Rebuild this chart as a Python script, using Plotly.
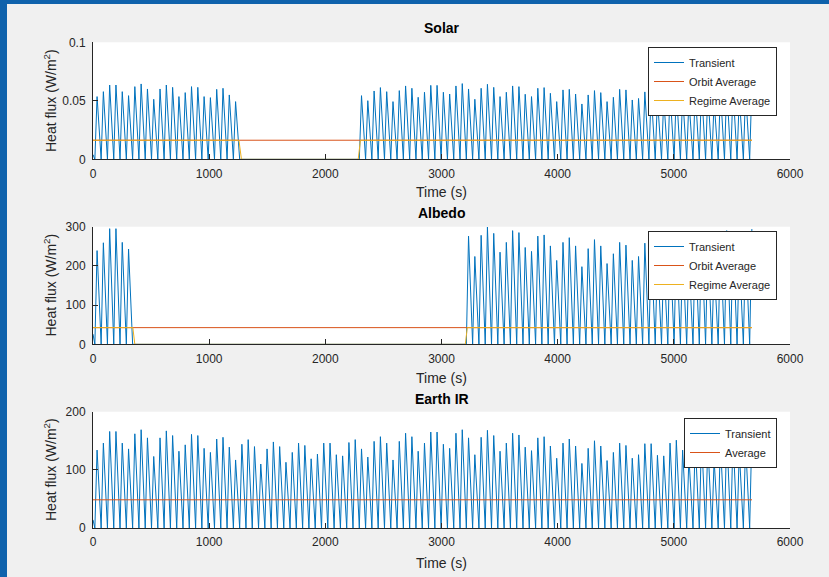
import plotly.graph_objects as go

# ---------------- data ----------------
END_T = 5673          # end of the orbit (s)
FIRST_PEAK_T = 35     # time of first transient peak (s)
PEAK_PERIOD = 54.2    # spacing of transient peaks (s)
RISE_S = 19           # time from trough to peak (s)

# Earth IR transient peaks (W/m2), peak indices 0..104
earth_peaks = [134, 146, 166, 166, 146, 136, 162, 169, 155, 123, 155, 167, 159, 132, 143, 161, 159, 137, 130, 153,
               156, 139, 117, 144, 152, 140, 110, 136, 148, 140, 113, 130, 146, 142, 119, 127, 146, 146, 126, 124,
               147, 152, 136, 122, 149, 157, 146, 117, 149, 163, 157, 132, 146, 165, 165, 144, 137, 163, 169, 155,
               126, 156, 168, 159, 132, 146, 163, 160, 139, 133, 155, 157, 141, 120, 146, 153, 141, 111, 137, 150,
               141, 116, 130, 146, 142, 120, 126, 145, 145, 125, 124, 146, 151, 134, 122, 149, 157, 146, 117, 149,
               163, 157, 132, 146, 165]
earth_start = 14
earth_avg = 48.5

# Albedo transient peaks: segment 1 (indices 0..5), segment 2 (indices 59..104)
albedo_seg1 = [239, 259, 295, 295, 260, 243]
albedo_seg2_first = 59
albedo_seg2 = [276, 224, 278, 299, 283, 235, 260, 290, 285, 247, 237, 276, 279, 251, 214, 260, 272, 251, 198, 244,
               267, 251, 206, 231, 260, 253, 214, 224, 258, 258, 223, 221, 260, 269, 239, 217, 265, 279, 260, 208,
               265, 290, 279, 235, 260, 294]
albedo_start = 26
albedo_orbit_avg = 42.5
albedo_regime_t = [0, 343, 360, 3205, 3222, END_T]
albedo_regime_v = [42.5, 42.5, 0, 0, 42.5, 42.5]

# Solar transient peaks: segment 1 (indices 0..22), segment 2 (indices 42..104)
solar_seg1 = [0.0536, 0.0578, 0.0635, 0.0635, 0.0578, 0.0544, 0.0621, 0.0644, 0.0601, 0.0513, 0.0601, 0.0635,
              0.0615, 0.0536, 0.0570, 0.0621, 0.0615, 0.0536, 0.0527, 0.0598, 0.0607, 0.0550, 0.0493]
solar_seg2_first = 42
solar_seg2 = [0.0544, 0.0501, 0.0584, 0.0613, 0.0578, 0.0493, 0.0587, 0.0627, 0.0607, 0.0530, 0.0573, 0.0632,
              0.0632, 0.0573, 0.0558, 0.0627, 0.0647, 0.0601, 0.0513, 0.0607, 0.0641, 0.0615, 0.0536, 0.0573,
              0.0627, 0.0621, 0.0556, 0.0536, 0.0607, 0.0613, 0.0564, 0.0493, 0.0593, 0.0598, 0.0558, 0.0473,
              0.0550, 0.0587, 0.0570, 0.0493, 0.0530, 0.0598, 0.0593, 0.0507, 0.0520, 0.0576, 0.0576, 0.0519,
              0.0516, 0.0579, 0.0593, 0.0545, 0.0511, 0.0588, 0.0610, 0.0579, 0.0496, 0.0588, 0.0628, 0.0610,
              0.0539, 0.0579, 0.0633]
solar_start = 0.004
solar_orbit_avg = 0.0163
solar_regime_t = [0, 1256, 1278, 2283, 2302, END_T]
solar_regime_v = [0.0163, 0.0163, 0, 0, 0.0163, 0.0163]

# ---------------- helpers ----------------
def transient(segments, start_val):
    xs, ys = [0], [start_val]
    for first, vals in segments:
        for k, v in enumerate(vals):
            t = FIRST_PEAK_T + (first + k) * PEAK_PERIOD
            t = min(t, END_T)
            xs += [t - RISE_S, t]
            ys += [0, v]
        t_after = FIRST_PEAK_T + (first + len(vals) - 1) * PEAK_PERIOD + (PEAK_PERIOD - RISE_S)
        if t_after < END_T:
            xs.append(t_after)
            ys.append(0)
    return xs, ys

BLUE = "#0072BD"
ORANGE = "#D95319"
YELLOW = "#EDB120"
AX = "#262626"
FONT = "Liberation Sans, Arial, Helvetica, sans-serif"

fig = go.Figure()

# Solar
sx, sy = transient([(0, solar_seg1), (solar_seg2_first, solar_seg2)], solar_start)
fig.add_trace(go.Scatter(x=sx, y=sy, mode="lines", line=dict(color=BLUE, width=1), name="Transient",
                         xaxis="x", yaxis="y", legend="legend"))
fig.add_trace(go.Scatter(x=[0, END_T], y=[solar_orbit_avg, solar_orbit_avg], mode="lines",
                         line=dict(color=ORANGE, width=1), name="Orbit Average", xaxis="x", yaxis="y", legend="legend"))
fig.add_trace(go.Scatter(x=solar_regime_t, y=solar_regime_v, mode="lines", line=dict(color=YELLOW, width=1),
                         name="Regime Average", xaxis="x", yaxis="y", legend="legend"))

# Albedo
ax_, ay_ = transient([(0, albedo_seg1), (albedo_seg2_first, albedo_seg2)], albedo_start)
fig.add_trace(go.Scatter(x=ax_, y=ay_, mode="lines", line=dict(color=BLUE, width=1), name="Transient",
                         xaxis="x2", yaxis="y2", legend="legend2"))
fig.add_trace(go.Scatter(x=[0, END_T], y=[albedo_orbit_avg, albedo_orbit_avg], mode="lines",
                         line=dict(color=ORANGE, width=1), name="Orbit Average", xaxis="x2", yaxis="y2", legend="legend2"))
fig.add_trace(go.Scatter(x=albedo_regime_t, y=albedo_regime_v, mode="lines", line=dict(color=YELLOW, width=1),
                         name="Regime Average", xaxis="x2", yaxis="y2", legend="legend2"))

# Earth IR
ex, ey = transient([(0, earth_peaks)], earth_start)
fig.add_trace(go.Scatter(x=ex, y=ey, mode="lines", line=dict(color=BLUE, width=1), name="Transient",
                         xaxis="x3", yaxis="y3", legend="legend3"))
fig.add_trace(go.Scatter(x=[0, END_T], y=[earth_avg, earth_avg], mode="lines",
                         line=dict(color=ORANGE, width=1), name="Average", xaxis="x3", yaxis="y3", legend="legend3"))

L, R, T, B = 93, 39, 42, 49
W, H = 829, 577
PW, PH = W - L - R, H - T - B


def py(pix):  # pixel row -> paper y
    return (H - B - pix) / PH


def px(pix):  # pixel column -> paper x
    return (pix - L) / PW


xcommon = dict(range=[0, 6000], tickvals=[0, 1000, 2000, 3000, 4000, 5000, 6000], showline=True,
               linecolor=AX, linewidth=1, ticks="inside", ticklen=5, tickcolor=AX, showgrid=False,
               zeroline=False, tickfont=dict(size=12, color=AX, family=FONT), fixedrange=True,
               ticklabelstandoff=3)
ycommon = dict(showline=True, linecolor=AX, linewidth=1, ticks="inside", ticklen=5, tickcolor=AX,
               showgrid=False, zeroline=False, tickfont=dict(size=12, color=AX, family=FONT), fixedrange=True,
               ticklabelstandoff=4)

legcommon = dict(bgcolor="white", bordercolor=AX, borderwidth=1, font=dict(size=11, color=AX, family=FONT),
                 xanchor="right", yanchor="top", tracegroupgap=0, itemwidth=30)

fig.update_layout(
    width=W, height=H, margin=dict(l=L, r=R, t=T, b=B),
    paper_bgcolor="#f0f0f0", plot_bgcolor="white",
    font=dict(family=FONT, color=AX),
    xaxis=dict(domain=[0, 1], anchor="y", **xcommon),
    yaxis=dict(domain=[py(159.3), py(42.3)], anchor="x", range=[0, 0.1], tickvals=[0, 0.05, 0.1],
               ticktext=["0", "0.05", "0.1"], **ycommon),
    xaxis2=dict(domain=[0, 1], anchor="y2", **xcommon),
    yaxis2=dict(domain=[py(344.3), py(226.7)], anchor="x2", range=[0, 300], tickvals=[0, 100, 200, 300], **ycommon),
    xaxis3=dict(domain=[0, 1], anchor="y3", **xcommon),
    yaxis3=dict(domain=[py(528), py(411.7)], anchor="x3", range=[0, 200], tickvals=[0, 100, 200], **ycommon),
    legend=dict(x=px(777), y=py(47), **legcommon),
    legend2=dict(x=px(777), y=py(231), **legcommon),
    legend3=dict(x=px(777), y=py(418), **legcommon),
    showlegend=True,
)

annots = []
for title, ypix in [("Solar", 28), ("Albedo", 213), ("Earth IR", 399)]:
    annots.append(dict(text="<b>" + title + "</b>", x=0.5, y=py(ypix), xref="paper", yref="paper",
                       showarrow=False, xanchor="center", yanchor="middle",
                       font=dict(size=14, color="black", family=FONT)))
for ypix in [192, 378, 563]:
    annots.append(dict(text="Time (s)", x=0.5, y=py(ypix), xref="paper", yref="paper", showarrow=False,
                       xanchor="center", yanchor="middle", font=dict(size=14, color=AX, family=FONT)))
for ypix in [101, 285.5, 470]:
    annots.append(dict(text="Heat flux (W/m<sup>2</sup>)", x=px(50), y=py(ypix), xref="paper", yref="paper",
                       showarrow=False, textangle=-90, xanchor="center", yanchor="middle",
                       font=dict(size=14, color=AX, family=FONT)))
fig.update_layout(annotations=annots)

# blue window frame (left and top edges)
FRAME = "#0f62ac"
fig.update_layout(shapes=[
    dict(type="rect", xref="paper", yref="paper", x0=px(-20), x1=px(7), y0=py(600), y1=py(-20),
         fillcolor=FRAME, line=dict(width=0), layer="below"),
    dict(type="rect", xref="paper", yref="paper", x0=px(-20), x1=px(850), y0=py(4), y1=py(-20),
         fillcolor=FRAME, line=dict(width=0), layer="below"),
])

fig.write_html("out.html", config={"displayModeBar": False},
               post_script="document.body.style.margin='0';document.body.style.overflow='hidden';")
